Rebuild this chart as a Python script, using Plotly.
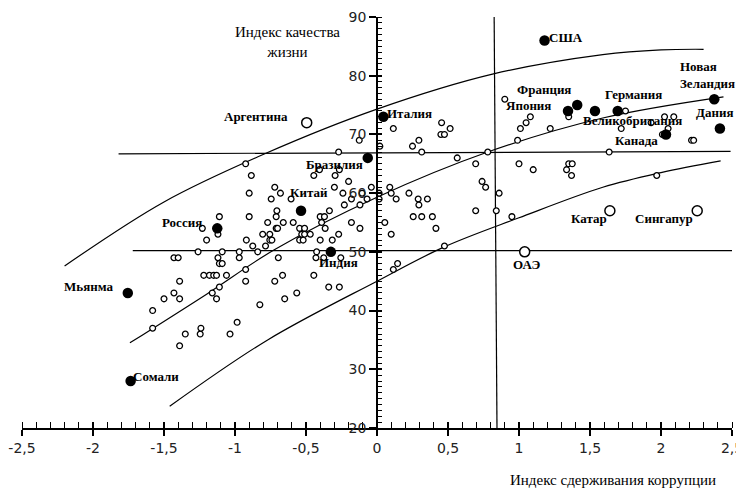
import plotly.graph_objects as go

# ---------------- data ----------------
# small open circles: all countries (corruption control index, quality-of-life index)
small_x = [-1.58, -1.58, -1.50, -1.43, -1.40, -1.43, -1.39, -1.39, -1.35, -1.39,
           -1.26, -1.245, -1.24, -1.23, -1.20, -1.22, -1.18, -1.15, -1.13, -1.16,
           -1.12, -1.13, -1.11, -1.09, -1.12, -1.11, -1.09, -1.11, -1.06, -0.97,
           -0.97, -0.985, -1.035, -0.925, -0.925, -0.92, -0.90, -0.90, -0.925, -0.885,
           -0.875, -0.84, -0.825, -0.805, -0.785, -0.77, -0.755, -0.755, -0.745, -0.74,
           -0.72, -0.72, -0.71, -0.70, -0.705, -0.71, -0.695, -0.68, -0.66, -0.665,
           -0.65, -0.605, -0.59, -0.565, -0.545, -0.545, -0.53, -0.52, -0.51, -0.51,
           -0.47, -0.445, -0.445, -0.43, -0.425, -0.405, -0.40, -0.40, -0.39, -0.375,
           -0.37, -0.365, -0.335, -0.34, -0.315, -0.30, -0.295, -0.27, -0.27, -0.265,
           -0.255, -0.265, -0.24, -0.23, -0.20, -0.18, -0.18, -0.125, -0.12, -0.12,
           -0.105, -0.07, -0.04, 0.015, 0.015, 0.02, 0.055, 0.09, 0.10, 0.10,
           0.115, 0.115, 0.145, 0.135, 0.225, 0.25, 0.255, 0.29, 0.295, 0.295,
           0.315, 0.315, 0.355, 0.39, 0.415, 0.455, 0.45, 0.475, 0.475, 0.515,
           0.565, 0.695, 0.695, 0.74, 0.765, 0.78, 0.84, 0.86, 0.90, 0.95,
           0.99, 1.00, 1.01, 1.05, 1.08, 1.10, 1.22, 1.335, 1.35, 1.375,
           1.37, 1.35, 1.635, 1.72, 1.75, 1.93, 1.97, 2.025, 2.01, 2.05,
           2.09, 2.215, 2.23]
small_y = [40, 37, 42, 49, 49, 43, 45, 42, 36, 34,
           50, 36, 37, 54, 52, 46, 46, 46, 46, 43,
           49, 42, 48, 48, 53, 56, 50, 44, 46, 50,
           49, 38, 36, 47, 45, 52, 60, 56, 65, 63,
           51, 50, 41, 53, 51, 55, 52, 53, 59, 52,
           61, 45, 54, 54, 57, 56, 49, 60, 55, 46,
           42, 59, 55, 43, 54, 52, 53, 52, 54, 53,
           53, 63, 46, 49, 50, 64, 52, 56, 55, 49,
           56, 54, 57, 44, 52, 61, 63, 67, 53, 44,
           49, 64, 60, 58, 62, 59, 55, 69, 54, 58,
           60, 59, 61, 59, 60, 68, 55, 61, 60, 53,
           71, 47, 48, 59, 60, 68, 56, 59, 58, 69,
           67, 56, 59, 56, 54, 72, 70, 70, 51, 71,
           66, 65, 57, 62, 61, 67, 57, 60, 76, 56,
           69, 65, 71, 72, 73, 64, 71, 64, 65, 65,
           63, 73, 67, 71, 74, 72, 63, 73, 70, 71,
           73, 69, 69]

# highlighted countries (filled circles)
hl_names = ["США", "Италия", "Бразилия", "Китай", "Россия", "Индия", "Мьянма",
            "Сомали", "Франция", "Япония", "Великобритания", "Германия", "Канада",
            "Новая<br>Зеландия", "Дания"]
hl_x = [1.18, 0.045, -0.065, -0.535, -1.125, -0.325, -1.755,
        -1.735, 1.41, 1.345, 1.535, 1.695, 2.035, 2.375, 2.415]
hl_y = [86.0, 73.0, 66.0, 57.0, 54.0, 50.0, 43.0,
        28.0, 75.0, 74.0, 74.0, 74.0, 70.0, 76.0, 71.0]

# highlighted countries (large open circles)
oc_names = ["Аргентина", "Катар", "Сингапур", "ОАЭ"]
oc_x = [-0.495, 1.64, 2.255, 1.04]
oc_y = [72.0, 57.0, 57.0, 50.0]

# trend curves
upper_x = [-2.20, -1.50, -0.79, 0.0, 0.82, 1.59, 2.00, 2.30]
upper_y = [47.6, 58.5, 66.7, 74.3, 80.3, 83.6, 84.4, 84.5]
middle_x = [-1.74, -1.20, -0.72, 0.0, 0.78, 1.59, 2.44]
middle_y = [34.5, 42.8, 50.4, 59.3, 67.0, 72.8, 76.4]
lower_x = [-1.46, -0.77, 0.0, 0.47, 1.00, 1.59, 2.00, 2.42]
lower_y = [23.7, 35.0, 45.0, 50.8, 55.8, 61.0, 63.5, 65.5]

# reference lines
h67_x = [-1.82, 2.49]
h67_y = [66.7, 67.1]
h50_x = [-1.72, 2.50]
h50_y = [50.2, 50.2]
v_x = [0.825, 0.845]
v_y = [90.0, 20.0]

x_ticks = [-2.5, -2, -1.5, -1, -0.5, 0, 0.5, 1, 1.5, 2, 2.5]
x_ticktext = ["-2,5", "-2", "-1,5", "-1", "-0,5", "0", "0,5", "1", "1,5", "2", "2,5"]
y_ticks = [20, 30, 40, 50, 60, 70, 80, 90]

# label offsets in pixels (styling)
hl_off = {"США": (2, 3, "left"), "Италия": (2, 3, "left"), "Бразилия": (-33, -7, "center"),
          "Китай": (8, 18, "center"), "Россия": (-35, 6, "center"), "Индия": (8, -11, "center"),
          "Мьянма": (-39, 6, "center"), "Сомали": (25, 5, "center"), "Франция": (-33, 16, "center"),
          "Япония": (-39, 5, "center"), "Великобритания": (38, -10, "center"),
          "Германия": (16, 16, "center"), "Канада": (-29, -6, "center"),
          "Новая<br>Зеландия": (-36, 24, "left"), "Дания": (-5, 16, "center")}
oc_off = {"Аргентина": (-51, 6), "Катар": (-21, -8), "Сингапур": (-33, -8), "ОАЭ": (2, -13)}

# ---------------- figure ----------------
fig = go.Figure()
line_style = dict(color="black", width=1.2)
for xs, ys in [(upper_x, upper_y), (middle_x, middle_y), (lower_x, lower_y)]:
    fig.add_trace(go.Scatter(x=xs, y=ys, mode="lines", line=dict(shape="spline", **line_style),
                             hoverinfo="skip"))
for xs, ys in [(h67_x, h67_y), (h50_x, h50_y), (v_x, v_y)]:
    fig.add_trace(go.Scatter(x=xs, y=ys, mode="lines", line=line_style, hoverinfo="skip"))

fig.add_trace(go.Scatter(x=small_x, y=small_y, mode="markers",
                         marker=dict(size=5.8, color="white", line=dict(color="black", width=1.3))))
fig.add_trace(go.Scatter(x=oc_x, y=oc_y, mode="markers",
                         marker=dict(size=10, color="white", line=dict(color="black", width=1.5))))
fig.add_trace(go.Scatter(x=hl_x, y=hl_y, mode="markers",
                         marker=dict(size=10.5, color="black", line=dict(color="black", width=0))))
# empty trace to hold the overlay axes (crossing major ticks)
fig.add_trace(go.Scatter(x=[], y=[], xaxis="x2", yaxis="y2", showlegend=False))

label_font = dict(family="Liberation Serif", size=13, color="black")
for n, x, y in zip(hl_names, hl_x, hl_y):
    dx, dy, anc = hl_off[n]
    fig.add_annotation(x=x, y=y, text="<b>" + n + "</b>", showarrow=False, xshift=dx, yshift=dy,
                       xanchor=anc, yanchor="middle", align="left", font=label_font)
for n, x, y in zip(oc_names, oc_x, oc_y):
    dx, dy = oc_off[n]
    fig.add_annotation(x=x, y=y, text="<b>" + n + "</b>", showarrow=False, xshift=dx, yshift=dy,
                       xanchor="center", yanchor="middle", font=label_font)

title_font = dict(family="Liberation Serif", size=15, color="black")
fig.add_annotation(x=-0.63, y=85.8, text="Индекс качества<br>жизни", showarrow=False,
                   xanchor="center", yanchor="middle", align="center", font=title_font)
fig.add_annotation(x=1.66, xref="x", y=-0.127, yref="paper", text="Индекс сдерживания коррупции",
                   showarrow=False, xanchor="center", yanchor="middle", font=title_font)

tick_font = dict(family="DejaVu Sans", size=14, color="#222")
# the page body has an 8px margin, so the figure is 8px smaller on each axis
fig.update_layout(
    width=736, height=481,
    margin=dict(l=14, r=12, t=9, b=61, autoexpand=False),
    paper_bgcolor="white", plot_bgcolor="white",
    showlegend=False,
    separators=", ",
    xaxis=dict(range=[-2.5, 2.5], tickvals=x_ticks, ticktext=x_ticktext, ticks="outside",
               ticklen=6, tickwidth=1.5, tickcolor="black", showline=True, linecolor="black",
               linewidth=1.8, showgrid=False, zeroline=False, tickfont=tick_font,
               automargin=False, ticklabeloverflow="allow",
               minor=dict(dtick=0.1, tick0=0, ticks="inside", ticklen=6, tickwidth=1.3,
                          tickcolor="black", showgrid=False),
               anchor="y", fixedrange=True),
    xaxis2=dict(range=[-2.5, 2.5], overlaying="x", anchor="y", tickvals=x_ticks, ticks="inside",
                ticklen=6, tickwidth=1.5, tickcolor="black", showticklabels=False,
                showline=False, showgrid=False, zeroline=False, automargin=False),
    yaxis=dict(range=[20, 90], tickvals=y_ticks, ticks="outside", ticklen=7, tickwidth=1.5,
               tickcolor="black", showline=True, linecolor="black", linewidth=1.8,
               showgrid=False, zeroline=False, tickfont=tick_font,
               anchor="free", position=0.5, automargin=False, ticklabeloverflow="allow",
               minor=dict(dtick=1, tick0=20, ticks="inside", ticklen=4, tickwidth=1.2,
                          tickcolor="black", showgrid=False)),
    yaxis2=dict(range=[20, 90], overlaying="y", anchor="free", position=0.5, tickvals=y_ticks,
                ticks="inside", ticklen=4, tickwidth=1.5, tickcolor="black",
                showticklabels=False, showline=False, showgrid=False, zeroline=False,
                automargin=False),
)

fig.write_html("out.html")
